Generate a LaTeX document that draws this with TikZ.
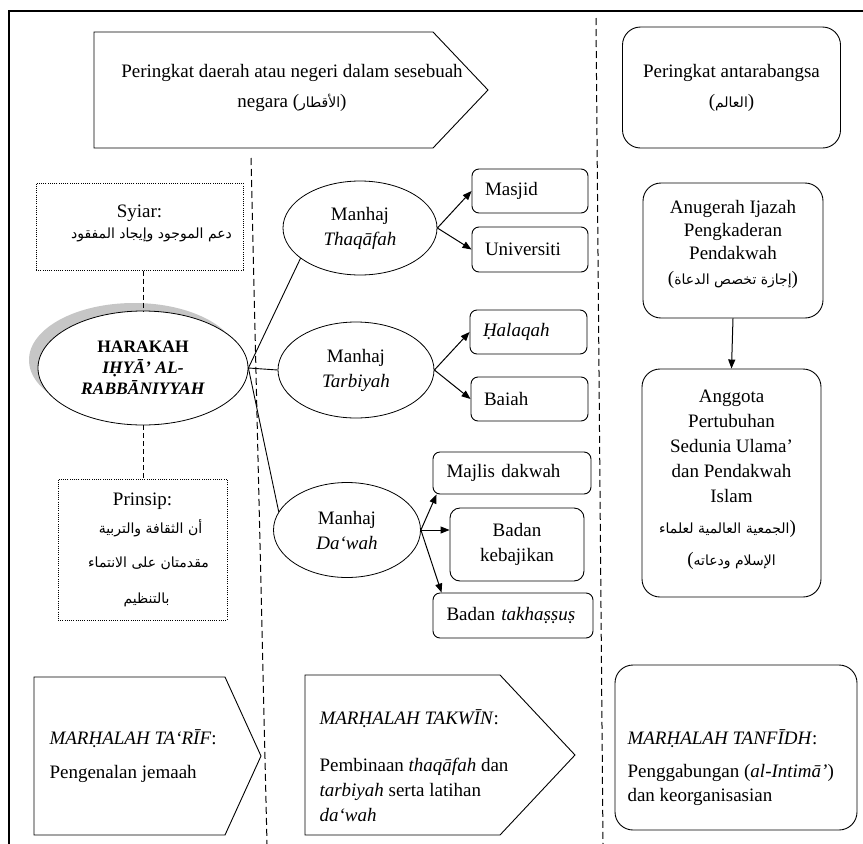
\documentclass[tikz,border=0pt]{standalone}
\usepackage{fontspec}
\setmainfont{Liberation Serif}
\newfontfamily\arabicfont[Script=Arabic]{DejaVu Sans}
\TeXXeTstate=1
\usetikzlibrary{shapes.geometric,arrows.meta,calc}
\newcommand{\artxt}[1]{\mbox{\arabicfont\fontsize{14}{17}\selectfont\beginR #1\endR}}
\newcommand{\shiftar}[2]{\kern#1pt#2\kern-#1pt}
\tikzset{
  rbox/.style={draw, rounded corners=18pt, line width=0.9pt, align=center, inner sep=0pt},
  sbox/.style={draw, rounded corners=7pt, line width=0.9pt, align=left, inner xsep=13pt, inner ysep=0pt},
  dotbox/.style={draw, dash pattern=on 1pt off 1.2pt, line width=1pt, align=center, inner sep=0pt},
  ell/.style={draw, ellipse, inner sep=0pt, align=center, line width=0.8pt},
  arr/.style={-{Triangle[length=9pt,width=7pt]}, line width=1pt},
  link/.style={line width=0.9pt},
  divider/.style={dash pattern=on 7pt off 4pt, line width=1pt},
  stem/.style={dash pattern=on 5pt off 3pt, line width=1pt},
  outline/.style={line width=0.9pt},
}
\begin{document}
\begin{tikzpicture}[x=1pt,y=-1pt,font=\fontsize{19}{25}\selectfont]
\useasboundingbox (0,0) rectangle (863,844);
\fill[white] (0,0) rectangle (863,844);
% frame
\draw[line width=2pt] (9,844) -- (9,11) -- (863,11);
% dividers
\draw[divider] (251,158) -- (267,844);
\draw[divider] (596,18) -- (603,844);

% top row
\draw[outline] (94,32) -- (433,32) -- (488,90) -- (433,148) -- (94,148) -- cycle;
\node[align=center] (tl) at (292,88) {Peringkat daerah atau negeri dalam sesebuah\\[5pt]negara (\artxt{الأقطار})};
\node[rbox, minimum width=218pt, minimum height=121pt] (tr) at (731.5,87.5) {Peringkat antarabangsa\\[5pt](\artxt{العالم})};

% left column
\node[dotbox, minimum width=207pt, minimum height=87pt, font=\fontsize{19}{21}\selectfont] (syiar) at (139.5,226.5) {Syiar:\\\shiftar{12}{\artxt{دعم الموجود وإيجاد المفقود}}\\[-12pt]};
\fill[gray!45] (134,360) ellipse [x radius=105, y radius=57];
\node[ell, fill=white, minimum width=210pt, minimum height=114pt, font=\fontsize{17.5}{21}\selectfont\bfseries] (har) at (143,368) {HARAKAH\\\textit{IḤYĀ’ AL-}\\\textit{RABBĀNIYYAH}};
\node[dotbox, minimum width=169pt, minimum height=141pt] (prinsip) at (142.5,549.5) {Prinsip:\\[3pt]\shiftar{8}{\artxt{أن الثقافة والتربية}}\\[9pt]\shiftar{6}{\artxt{مقدمتان على الانتماء}}\\[11pt]\shiftar{4}{\artxt{بالتنظيم}}};
\draw[stem] (har.north |- syiar.south) -- (har.north);
\draw[stem] (har.south) -- (har.south |- prinsip.north);

% manhaj
\node[ell, minimum width=154pt, minimum height=94pt] (thaq) at (360,228) {Manhaj\\\textit{Thaqāfah}};
\node[ell, minimum width=156pt, minimum height=96pt] (tarb) at (356,370) {Manhaj\\\textit{Tarbiyah}};
\node[ell, minimum width=147pt, minimum height=95pt] (dawah) at (347,530) {Manhaj\\\textit{Da‘wah}};
\draw[link] (har.east) -- (thaq.207);
\draw[link] (har.east) -- (tarb.west);
\draw[link] (har.east) -- (dawah.165);

\node[sbox, text width=90pt, minimum height=44pt] (masjid) at (530,191) {Masjid};
\node[sbox, text width=90pt, minimum height=45pt] (univ) at (530,249.5) {Universiti};
\node[sbox, text width=91pt, minimum height=44pt] (halaqah) at (528.5,332) {\textit{Ḥalaqah}};
\node[sbox, text width=91pt, minimum height=44pt] (baiah) at (529.5,399) {Baiah};
\node[sbox, text width=131pt, inner xsep=13.5pt, minimum height=42pt] (majlis) at (512,473) {Majlis dakwah};
\node[draw, rounded corners=10pt, line width=0.9pt, align=center, minimum width=134pt, minimum height=73pt, inner sep=0pt] (keb) at (517,544.5) {Badan\\kebajikan};
\node[sbox, text width=133pt, inner xsep=13.5pt, minimum height=45pt] (takh) at (513,615.5) {Badan \textit{takhaṣṣuṣ}};
\draw[arr] (thaq.east) -- (masjid.west);
\draw[arr] (thaq.east) -- (univ.west);
\draw[arr] (tarb.east) -- (halaqah.west);
\draw[arr] (tarb.east) -- (baiah.west);
\draw[arr] (dawah.east) -- ($(majlis.south west)+(4,0)$);
\draw[arr] (dawah.east) -- (keb.west |- dawah.east);
\draw[arr] (dawah.east) -- ($(takh.north west)+(9,0)$);

% right column
\node[rbox, minimum width=180pt, minimum height=135pt, font=\fontsize{19}{23}\selectfont] (anug) at (733,250.5) {Anugerah Ijazah\\Pengkaderan\\Pendakwah\\[2pt](\artxt{إجازة تخصص الدعاة})\\[-6pt]};
\node[rbox, minimum width=179pt, minimum height=228pt] (angg) at (731.5,483) {Anggota\\Pertubuhan\\Sedunia Ulama’\\dan Pendakwah\\Islam\\[6pt]\shiftar{-4}{\artxt{الجمعية العالمية لعلماء})}\\[7pt](\artxt{الإسلام ودعاته}\\[-14pt]};
\draw[arr] (anug.south) -- (angg.north);

% bottom row
\draw[outline] (34,677) -- (225,677) -- (261,756) -- (225,835) -- (34,835) -- cycle;
\node[align=left, anchor=west] (tarif) at (46,756) {\textit{MARḤALAH TA‘RĪF}:\\[9pt]Pengenalan jemaah};
\draw[outline] (305,675) -- (500,675) -- (575,755) -- (500,835) -- (305,835) -- cycle;
\node[align=left, anchor=west] (takwin) at (316,766) {\textit{MARḤALAH TAKWĪN}:\\[22pt]Pembinaan \textit{thaqāfah} dan\\\textit{tarbiyah} serta latihan\\\textit{da‘wah}};
\node[rbox, minimum width=242pt, minimum height=165pt] (tanf) at (736,747.5) {};
\node[align=left, anchor=west] (tanft) at (624,768) {\textit{MARḤALAH TANFĪDH}:\\[8pt]Penggabungan (\textit{al-Intimā’})\\[-1pt]dan keorganisasian};
\end{tikzpicture}
\end{document}
